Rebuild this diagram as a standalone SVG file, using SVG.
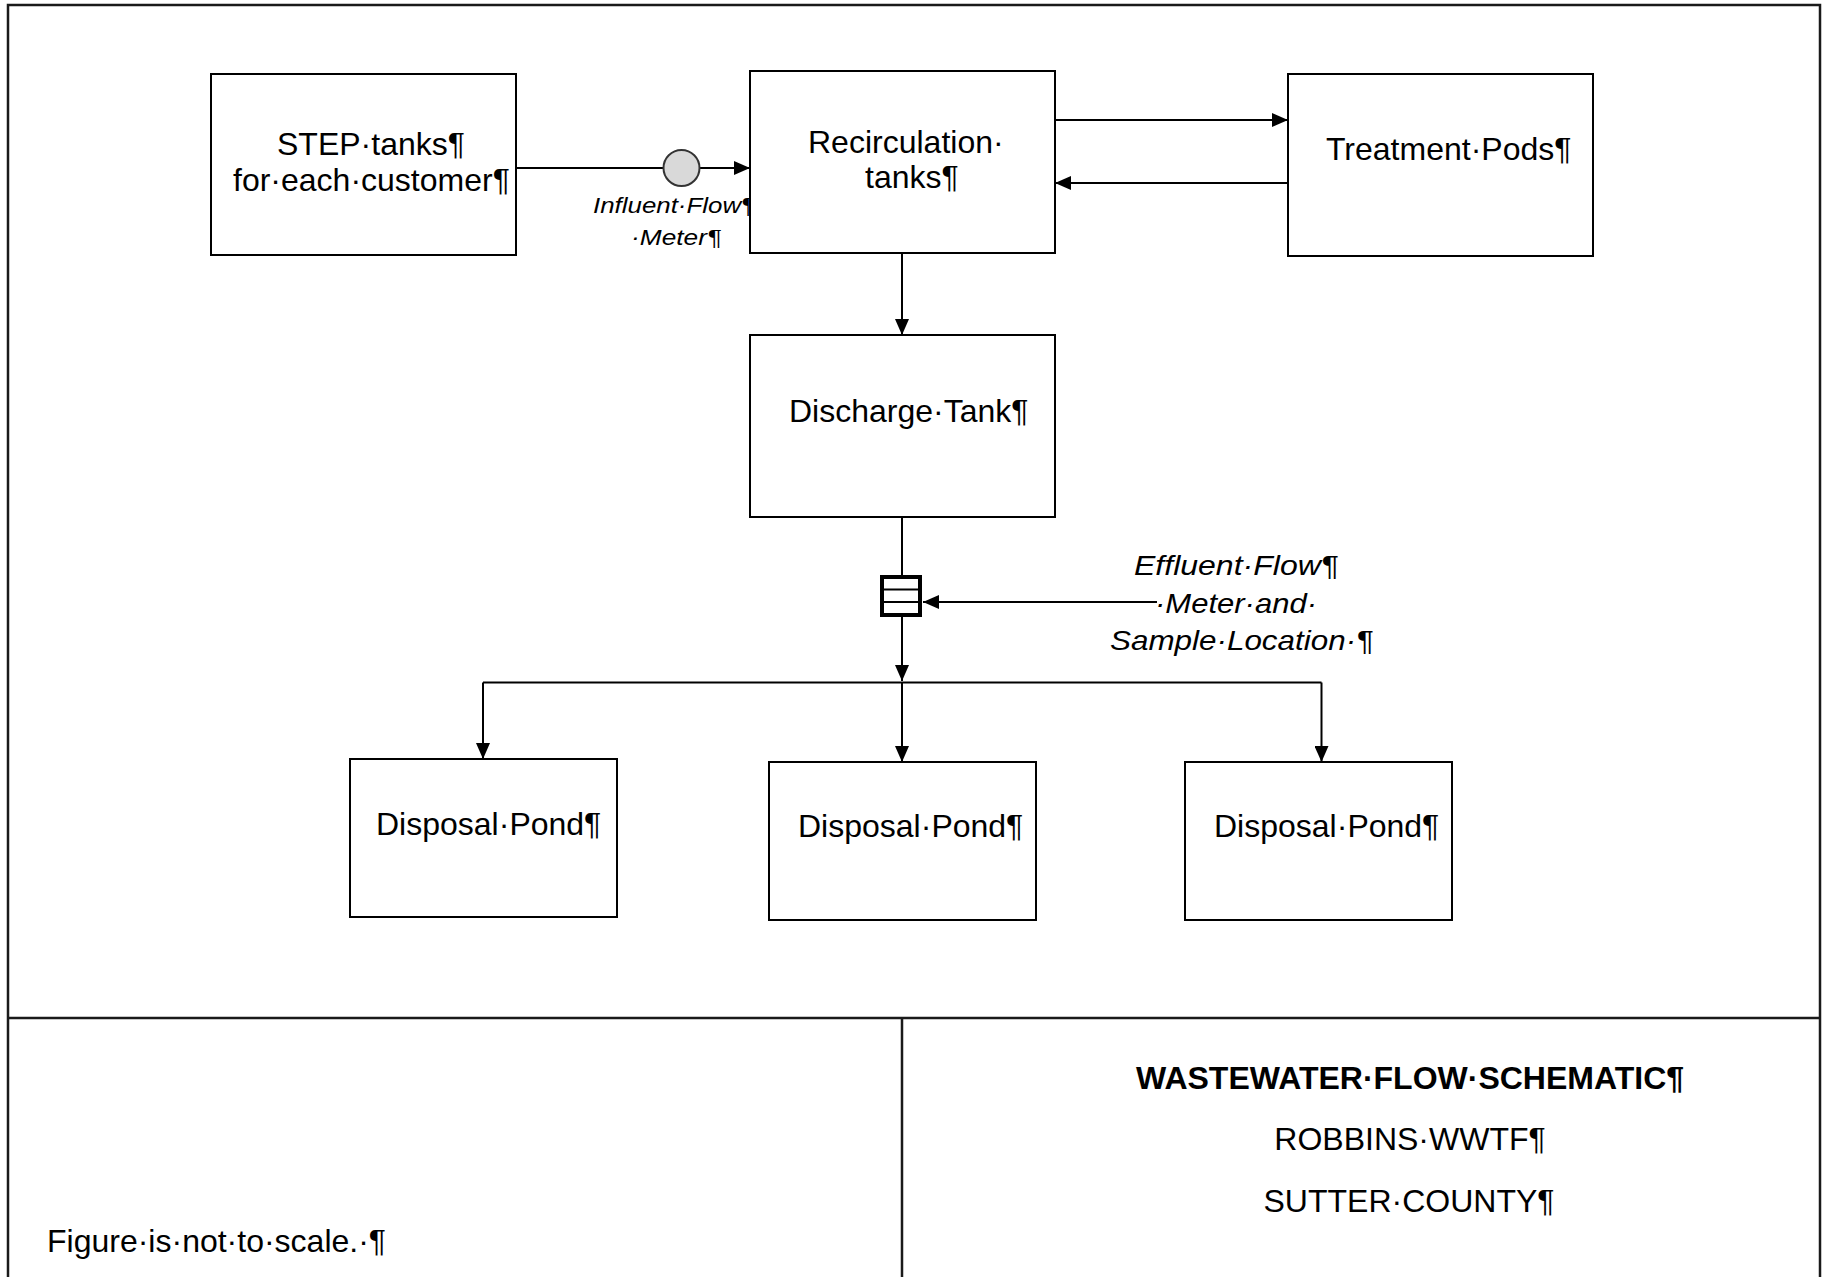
<svg xmlns="http://www.w3.org/2000/svg" width="1826" height="1277" viewBox="0 0 1826 1277">
<style>
  .box { fill: #ffffff; stroke: #000000; stroke-width: 2; }
  .frame { fill: none; stroke: #1a1a1a; stroke-width: 2.5; }
  .conn { fill: none; stroke: #000000; stroke-width: 2; }
  .t { font-family: "Liberation Sans", Arial, sans-serif; font-size: 32px; fill: #000000; }
  .lbl { font-family: "Liberation Sans", Arial, sans-serif; font-style: italic; fill: #000000; }
  .b { font-weight: bold; }
</style>
<defs>
  <marker id="arr" markerUnits="userSpaceOnUse" markerWidth="16" markerHeight="14" viewBox="0 0 16 14" refX="16" refY="7" orient="auto">
    <path d="M0,0 L16,7 L0,14 Z" fill="#000000"/>
  </marker>
</defs>
<rect x="0" y="0" width="1826" height="1277" fill="#ffffff"/>

<g id="frame">
  <rect class="frame" x="8" y="5" width="1812" height="1300"/>
  <line class="frame" x1="8" y1="1018" x2="1820" y2="1018"/>
  <line class="frame" x1="902" y1="1018" x2="902" y2="1290"/>
</g>

<g id="connectors">
  <path class="conn" d="M516,168 H750" marker-end="url(#arr)"/>
  <path class="conn" d="M1055,120 H1288" marker-end="url(#arr)"/>
  <path class="conn" d="M1288,183 H1055" marker-end="url(#arr)"/>
  <path class="conn" d="M902,253 V335" marker-end="url(#arr)"/>
  <path class="conn" d="M902,517 V577"/>
  <path class="conn" d="M902,617 V681" marker-end="url(#arr)"/>
  <path class="conn" d="M1157,602 H923" marker-end="url(#arr)"/>
  <path class="conn" d="M483,682.5 H1321.5"/>
  <path class="conn" d="M483,682.5 V759" marker-end="url(#arr)"/>
  <path class="conn" d="M902,682.5 V762" marker-end="url(#arr)"/>
  <path class="conn" d="M1321.5,682.5 V762" marker-end="url(#arr)"/>
</g>

<g id="influent-label">
  <text class="lbl" font-size="22.5" x="593" y="213" textLength="162" lengthAdjust="spacingAndGlyphs">Influent·Flow¶</text>
  <text class="lbl" font-size="22.5" x="631" y="245" textLength="90" lengthAdjust="spacingAndGlyphs">·Meter¶</text>
</g>

<g id="effluent-label">
  <text class="lbl" font-size="28" x="1134" y="575" textLength="204" lengthAdjust="spacingAndGlyphs">Effluent·Flow¶</text>
  <text class="lbl" font-size="28" x="1155" y="613" textLength="162" lengthAdjust="spacingAndGlyphs">·Meter·and·</text>
  <text class="lbl" font-size="28" x="1110" y="650" textLength="263" lengthAdjust="spacingAndGlyphs">Sample·Location·¶</text>
</g>

<g id="influent-meter">
  <circle cx="681.5" cy="168" r="18" fill="#d9d9d9" stroke="#333333" stroke-width="2"/>
</g>

<g id="effluent-meter">
  <rect x="882" y="577" width="38" height="38" fill="#ffffff" stroke="#000000" stroke-width="4"/>
  <line x1="882" y1="589.5" x2="920" y2="589.5" stroke="#000000" stroke-width="2"/>
  <line x1="882" y1="602" x2="920" y2="602" stroke="#000000" stroke-width="2"/>
</g>

<g id="step-tanks">
  <rect class="box" x="211" y="74" width="305" height="181"/>
  <text class="t" x="277" y="155">STEP·tanks¶</text>
  <text class="t" x="233" y="191">for·each·customer¶</text>
</g>

<g id="recirculation-tanks">
  <rect class="box" x="750" y="71" width="305" height="182"/>
  <text class="t" x="808" y="153">Recirculation·</text>
  <text class="t" x="865" y="188">tanks¶</text>
</g>

<g id="treatment-pods">
  <rect class="box" x="1288" y="74" width="305" height="182"/>
  <text class="t" x="1326" y="160">Treatment·Pods¶</text>
</g>

<g id="discharge-tank">
  <rect class="box" x="750" y="335" width="305" height="182"/>
  <text class="t" x="789" y="422">Discharge·Tank¶</text>
</g>

<g id="disposal-pond-1">
  <rect class="box" x="350" y="759" width="267" height="158"/>
  <text class="t" x="376" y="835">Disposal·Pond¶</text>
</g>

<g id="disposal-pond-2">
  <rect class="box" x="769" y="762" width="267" height="158"/>
  <text class="t" x="798" y="837">Disposal·Pond¶</text>
</g>

<g id="disposal-pond-3">
  <rect class="box" x="1185" y="762" width="267" height="158"/>
  <text class="t" x="1214" y="837">Disposal·Pond¶</text>
</g>

<g id="note">
  <text class="t" x="47" y="1252">Figure·is·not·to·scale.·¶</text>
</g>

<g id="title-block">
  <text class="t b" x="1410" y="1089" text-anchor="middle">WASTEWATER·FLOW·SCHEMATIC¶</text>
  <text class="t" x="1410" y="1150" text-anchor="middle">ROBBINS·WWTF¶</text>
  <text class="t" x="1409" y="1212" text-anchor="middle">SUTTER·COUNTY¶</text>
</g>
</svg>
